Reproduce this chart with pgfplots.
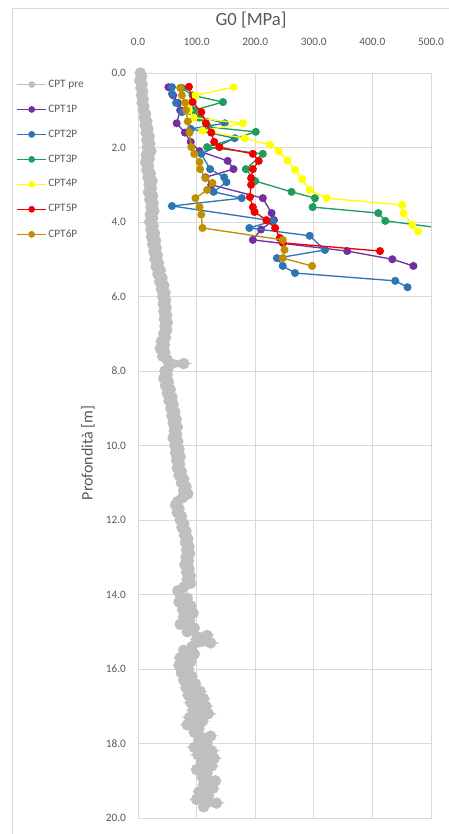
\documentclass[border=0pt]{standalone}
\usepackage{fontspec}
\setmainfont{Carlito}
\usepackage{pgfplots}
\usepackage{pgfplotstable}
\pgfplotsset{compat=1.18}

\definecolor{labelgray}{HTML}{595959}
\definecolor{gridgray}{HTML}{D9D9D9}
\definecolor{cpre}{HTML}{BFBFBF}
\definecolor{c1}{HTML}{7030A0}
\definecolor{c2}{HTML}{2E75B6}
\definecolor{c3}{HTML}{1E9E5A}
\definecolor{c4}{HTML}{FFFF00}
\definecolor{c5}{HTML}{F00000}
\definecolor{c6}{HTML}{BF9000}

% G0 [MPa] against depth [m]
\pgfplotstableread{
G d
4 0.0
6 0.1
3 0.2
7 0.3
5 0.4
8 0.5
6 0.6
9 0.7
7 0.8
10 0.9
9 1.0
13 1.1
11 1.2
15 1.3
12 1.4
17 1.5
14 1.6
19 1.7
15 1.8
20 1.9
16 2.0
22 2.1
14 2.2
19 2.3
13 2.4
18 2.5
15 2.6
21 2.7
17 2.8
24 2.9
19 3.0
23 3.1
18 3.2
25 3.3
20 3.4
26 3.5
22 3.6
27 3.7
21 3.8
25 3.9
20 4.0
26 4.1
22 4.2
28 4.3
23 4.4
30 4.5
25 4.6
31 4.7
27 4.8
33 4.9
29 5.0
35 5.1
31 5.2
38 5.3
34 5.4
41 5.5
37 5.6
44 5.7
40 5.8
46 5.9
42 6.0
47 6.1
43 6.2
48 6.3
44 6.4
49 6.5
45 6.6
50 6.7
46 6.8
49 6.9
44 7.0
47 7.1
40 7.2
45 7.3
38 7.4
46 7.5
42 7.6
50 7.7
78 7.8
52 7.9
46 8.0
50 8.1
44 8.2
52 8.3
47 8.4
55 8.5
50 8.6
58 8.7
53 8.8
60 8.9
56 9.0
63 9.1
58 9.2
65 9.3
60 9.4
67 9.5
62 9.6
66 9.7
60 9.8
68 9.9
63 10.0
70 10.1
64 10.2
72 10.3
66 10.4
71 10.5
67 10.6
74 10.7
70 10.8
78 10.9
74 11.0
82 11.1
78 11.2
85 11.3
76 11.4
68 11.5
64 11.6
70 11.7
67 11.8
74 11.9
72 12.0
78 12.1
75 12.2
82 12.3
79 12.4
85 12.5
81 12.6
87 12.7
83 12.8
88 12.9
82 13.0
86 13.1
80 13.2
87 13.3
83 13.4
89 13.5
84 13.6
90 13.7
78 13.8
68 13.9
72 14.0
84 14.1
70 14.2
90 14.3
76 14.4
94 14.5
78 14.6
88 14.7
72 14.8
96 14.9
84 15.0
118 15.1
100 15.2
124 15.3
92 15.4
78 15.5
96 15.6
72 15.7
90 15.8
70 15.9
86 16.0
74 16.1
92 16.2
78 16.3
98 16.4
82 16.5
106 16.6
86 16.7
112 16.8
90 16.9
116 17.0
94 17.1
120 17.2
88 17.3
110 17.4
84 17.5
104 17.6
96 17.7
124 17.8
104 17.9
118 18.0
96 18.1
126 18.2
102 18.3
130 18.4
108 18.5
126 18.6
100 18.7
118 18.8
110 18.9
132 19.0
112 19.1
128 19.2
104 19.3
120 19.4
100 19.5
134 19.6
112 19.7
}\cptpre

\pgfplotstableread{
G d
52 0.38
60 0.60
68 0.80
72 1.00
66 1.35
80 1.60
90 1.85
105 2.10
153 2.36
163 2.58
115 2.80
125 3.00
213 3.36
228 3.76
232 3.95
210 4.20
196 4.48
357 4.78
434 5.00
470 5.18
}\cptone

\pgfplotstableread{
G d
58 0.38
58 0.56
65 0.80
75 1.05
148 1.35
90 1.50
165 1.75
108 2.17
123 2.58
147 2.80
151 2.93
129 3.19
177 3.36
58 3.57
230 3.97
190 4.16
293 4.37
319 4.75
237 4.97
247 5.18
268 5.37
439 5.58
460 5.75
}\cpttwo

\pgfplotstableread{
G d
75 0.40
93 0.60
145 0.78
95 1.00
105 1.20
120 1.45
201 1.58
118 1.99
213 2.17
184 2.58
200 2.90
262 3.19
302 3.36
298 3.60
410 3.76
422 3.97
560 4.25
}\cptthree

\pgfplotstableread{
G d
163 0.38
98 0.60
85 0.80
87 1.00
95 1.20
179 1.35
110 1.55
182 1.75
225 1.93
240 2.10
255 2.35
268 2.60
280 2.85
293 3.14
322 3.36
451 3.54
453 3.76
468 4.08
478 4.25
}\cptfour

\pgfplotstableread{
G d
87 0.37
93 0.78
108 1.05
116 1.35
125 1.60
130 1.85
139 1.99
196 2.17
206 2.36
196 2.58
193 2.82
193 3.00
191 3.33
196 3.60
199 3.73
219 3.95
234 4.16
242 4.43
247 4.56
413 4.78
}\cptfive

\pgfplotstableread{
G d
72 0.40
75 0.60
80 0.80
82 1.00
85 1.30
88 1.60
91 1.99
96 2.17
105 2.39
106 2.58
115 2.82
127 2.95
118 3.14
98 3.36
105 3.60
108 3.80
110 4.16
247 4.48
250 4.75
247 4.97
297 5.18
}\cptsix

\begin{document}
\begin{tikzpicture}[x=0.75pt,y=0.75pt]
\useasboundingbox (-138,73) rectangle (311,-761);
\draw[gridgray] (-126,65) rectangle (340,-800);
\begin{axis}[
  at={(0,0)}, anchor=north west,
  scale only axis,
  width=219.75pt, height=558.75pt,
  xmin=0, xmax=500, ymin=0, ymax=20,
  y dir=reverse,
  xtick={0,100,...,500},
  ytick={0,2,...,20},
  xticklabel pos=top,
  grid=major,
  major grid style={draw=gridgray, line width=0.6pt},
  axis line style={draw=gridgray, line width=0.6pt},
  tick style={draw=none},
  clip mode=individual,
  /pgf/number format/assume math mode=true,
  every tick label/.append style={font=\fontsize{8.5}{10}\selectfont, text=labelgray},
  xticklabel style={yshift=17pt, /pgf/number format/.cd, fixed, fixed zerofill, precision=1, 1000 sep={}},
  yticklabel style={xshift=-5.5pt, /pgf/number format/.cd, fixed, fixed zerofill, precision=1},
  title={G0 [MPa]},
  title style={at={(axis description cs:0.386,1.0604)}, anchor=center,
    font=\fontsize{14}{16}\selectfont, text=labelgray},
  ylabel={Profondità [m]},
  ylabel style={at={(axis description cs:-0.171,0.49)}, anchor=center,
    font=\fontsize{12}{14}\selectfont, text=labelgray},
  legend style={at={(axis description cs:-0.416,0.993)}, anchor=north west,
    draw=none, fill=none, inner sep=0pt, row sep=9.7pt,
    font=\fontsize{8.5}{10}\selectfont, text=labelgray,
    nodes={inner sep=1pt}},
  legend cell align=left,
  legend image code/.code={
    \draw[line width=1pt, mark size=2pt, mark repeat=2, mark phase=2]
      plot coordinates {(0pt,0pt) (11pt,0pt) (22pt,0pt)};},
]
\addplot[cpre, line width=3pt, mark=*, mark size=2.7pt, mark options={fill=cpre, draw=cpre}]
  table[x=G, y=d] {\cptpre};
\addlegendentry{CPT pre}
\addplot[c1, line width=1pt, mark=*, mark size=2.5pt, mark options={fill=c1, draw=c1}]
  table[x=G, y=d] {\cptone};
\addlegendentry{CPT1P}
\addplot[c2, line width=1pt, mark=*, mark size=2.5pt, mark options={fill=c2, draw=c2}]
  table[x=G, y=d] {\cpttwo};
\addlegendentry{CPT2P}
\addplot[c3, line width=1pt, mark=*, mark size=2.5pt, mark options={fill=c3, draw=c3}]
  table[x=G, y=d] {\cptthree};
\addlegendentry{CPT3P}
\addplot[c4, line width=1pt, mark=*, mark size=2.5pt, mark options={fill=c4, draw=c4}]
  table[x=G, y=d] {\cptfour};
\addlegendentry{CPT4P}
\addplot[c5, line width=1pt, mark=*, mark size=2.5pt, mark options={fill=c5, draw=c5}]
  table[x=G, y=d] {\cptfive};
\addlegendentry{CPT5P}
\addplot[c6, line width=1pt, mark=*, mark size=2.5pt, mark options={fill=c6, draw=c6}]
  table[x=G, y=d] {\cptsix};
\addlegendentry{CPT6P}
\end{axis}
\end{tikzpicture}
\end{document}
